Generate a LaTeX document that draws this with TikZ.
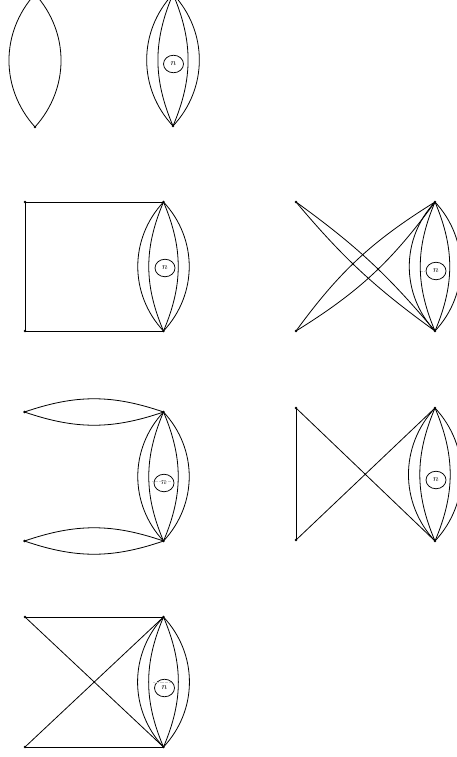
\documentclass[tikz,border=0pt]{standalone}
\usetikzlibrary{shapes.geometric}
\tikzset{
  vtx/.style={circle,fill=black,inner sep=0pt,minimum size=2.6pt},
  loopc/.style={draw,ellipse,line width=0.75pt,minimum width=20pt,minimum height=17.5pt,inner sep=0pt,font=\small},
  edge/.style={line width=0.8pt,black},
  faint/.style={gray!40,densely dotted,line width=0.3pt}
}
\newcommand{\lensgroup}[6]{% name, x, ytop, ybot, circle x, circle y
  \node[vtx] (#1t) at (#2,#3) {};
  \node[vtx] (#1b) at (#2,#4) {};
  \draw[edge] (#1t.center) to[bend right=43] (#1b.center);
  \draw[edge] (#1t.center) to[bend left=43] (#1b.center);
  \draw[edge] (#1t.center) to[bend right=23] (#1b.center);
  \draw[edge] (#1t.center) to[bend left=23] (#1b.center);
  \node[loopc] (#1c) at (#5,#6) {$n$};
}
\begin{document}
\begin{tikzpicture}[x=1pt,y=-1pt]
\useasboundingbox (0,0) rectangle (457,757);
\begin{scope}
\clip (0,0) rectangle (457,757);
% top row
\node[vtx] (at) at (35,-6) {};
\node[vtx] (ab) at (35,127) {};
\draw[edge] (at.center) to[bend right=42] (ab.center);
\draw[edge] (at.center) to[bend left=42] (ab.center);
\lensgroup{b}{173}{-6}{126}{173.5}{64}
% row 2 left
\lensgroup{c}{163.5}{202}{331}{165}{268}
\node[vtx] (c1) at (25,202) {};
\node[vtx] (c2) at (25,331) {};
\draw[edge] (c1.center) -- (ct.center);
\draw[edge] (c2.center) -- (cb.center);
\draw[edge] (c1.center) -- (c2.center);
% row 2 right
\lensgroup{d}{435}{202}{331}{436}{271}
\node[vtx] (d1) at (296,202) {};
\node[vtx] (d2) at (296,331) {};
\draw[edge] (d1.center) to[bend left=7] (db.center);
\draw[edge] (d1.center) to[bend right=7] (db.center);
\draw[edge] (d2.center) to[bend left=11] (dt.center);
\draw[edge] (d2.center) to[bend right=11] (dt.center);
\draw[faint] (421,271) -- (426,271);
% row 3 left
\lensgroup{e}{163.5}{412}{541}{164}{483}
\node[vtx] (e1) at (24.5,412) {};
\node[vtx] (e2) at (24.5,541) {};
\draw[edge] (e1.center) to[bend left=19] (et.center);
\draw[edge] (e1.center) to[bend right=19] (et.center);
\draw[edge] (e2.center) to[bend left=19] (eb.center);
\draw[edge] (e2.center) to[bend right=19] (eb.center);
\draw[faint] (152,481) -- (171,481);
% row 3 right
\lensgroup{f}{435}{408}{541}{436}{480}
\node[vtx] (f1) at (296,408) {};
\node[vtx] (f2) at (296,540) {};
\draw[edge] (f1.center) -- (fb.center);
\draw[edge] (f2.center) -- (ft.center);
\draw[edge] (f1.center) -- (f2.center);
% row 4
\lensgroup{g}{163.5}{617}{747}{164.5}{688}
\node[vtx] (g1) at (25,617) {};
\node[vtx] (g2) at (25,747) {};
\draw[edge] (g1.center) -- (gt.center);
\draw[edge] (g2.center) -- (gb.center);
\draw[edge] (g1.center) -- (gb.center);
\draw[edge] (g2.center) -- (gt.center);
\draw[faint] (153,682) -- (170,682);
\end{scope}
\end{tikzpicture}
\end{document}
